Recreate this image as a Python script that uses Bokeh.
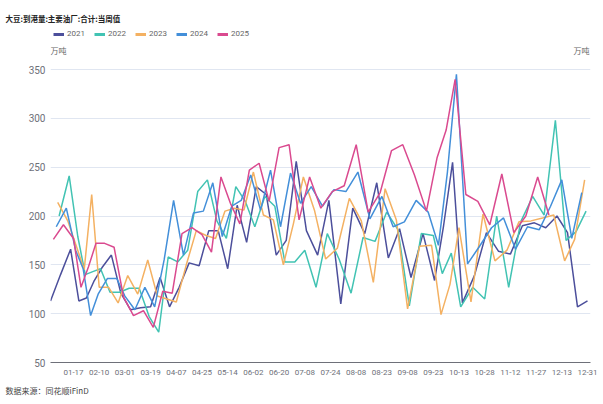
import numpy as np
import pandas as pd
from bokeh.plotting import figure
from bokeh.models import FixedTicker, Label, Legend, LegendItem, Range1d, Title
from bokeh.embed import file_html
from bokeh.resources import INLINE

# ---------------- data ----------------
title_text = "大豆:到港量:主要油厂:合计:当周值"
unit_text = "万吨"
source_text = "数据来源：同花顺iFinD"

tick_labels = ["01-17", "02-10", "03-01", "03-19", "04-07", "04-25", "05-14",
               "06-02", "06-20", "07-08", "07-24", "08-08", "08-23", "09-08",
               "09-23", "10-13", "10-28", "11-12", "11-27", "12-13", "12-31"]
y_ticks = [50, 100, 150, 200, 250, 300, 350]

years = ["2021", "2022", "2023", "2024", "2025"]

v2021 = [113, 140, 166, 113, 116, 133, 147, 160, 121, 104, 106, 107, 137, 107,
         127, 152, 149, 185, 185, 146, 211, 173, 230, 222, 160, 175, 256, 185,
         160, 216, 110, 208, 182, 234, 157, 187, 137, 182, 134, 190, 255, 111,
         139, 183, 164, 161, 190, 193, 188, 200, 183, 107, 113]
v2022 = [200, 241, 179, 140, 143, 146, 122, 122, 126, 126, 97, 81, 158, 153,
         165, 225, 237, 195, 177, 230, 215, 189, 220, 210, 153, 153, 165, 127,
         182, 156, 121, 178, 174, 204, 186, 108, 182, 180, 141, 162, 107, 127,
         115, 200, 127, 194, 220, 201, 298, 175, 184, 205]
v2023 = [214, 195, 168, 145, 222, 127, 127, 111, 139, 120, 155, 118, 115, 112,
         150, 185, 180, 177, 205, 208, 206, 245, 201, 196, 150, 192, 240, 206,
         156, 167, 218, 195, 132, 228, 196, 105, 169, 170, 99, 130, 188, 112,
         202, 154, 165, 194, 195, 198, 201, 154, 176, 237]
v2024 = [189, 208, 165, 146, 98, 120, 136, 136, 118, 104, 127, 107, 155, 216,
         160, 203, 205, 234, 179, 210, 216, 242, 206, 247, 189, 244, 213, 230,
         210, 227, 225, 245, 197, 220, 189, 194, 216, 204, 170, 245, 345, 151,
         169, 188, 198, 166, 189, 186, 210, 237, 177, 224]
v2025 = [176, 191, 177, 127, 148, 172, 172, 168, 117, 98, 103, 86, 123, 121,
         182, 188, 181, 163, 240, 213, 192, 247, 254, 215, 270, 273, 196, 240,
         208, 225, 231, 273, 204, 224, 267, 273, 242, 205, 260, 288, 340, 222,
         215, 191, 243, 183, 200, 240, 201]

series_values = [v2021, v2022, v2023, v2024, v2025]
colors = ["#4c4f9b", "#42c3b3", "#f4b162", "#438fd9", "#da4a8f"]

# ---------------- category-axis position of each weekly date ----------------
FIRST_POS = 0.105           # position of 01-01 (first category, unlabeled)
anchor_md = ["01-01"] + tick_labels
anchor_doy = [pd.Timestamp("2021-" + md).dayofyear for md in anchor_md]
anchor_pos = [FIRST_POS] + list(range(1, len(tick_labels) + 1))


def positions(year, n):
    dates = pd.date_range(f"{year}-01-01", periods=n, freq="W-FRI")
    doy = [pd.Timestamp("2021-" + d.strftime("%m-%d")).dayofyear for d in dates]
    return np.interp(doy, anchor_doy, anchor_pos)


# ---------------- figure ----------------
W, H = 600, 402
FL, FR, FT, FB = 50, 10, 26, 40          # borders
FH = H - FT - FB
FW = W - FL - FR
SPAN_PX = 293                            # pixels between value 50 and 350
Y_TOP = 50 + 300 * FH / SPAN_PX          # legend / unit strip above 350

CJK = "Noto Sans CJK SC"

p = figure(width=W, height=H, output_backend="svg", toolbar_location=None,
           x_range=Range1d(FIRST_POS, len(tick_labels) + 0.117),
           y_range=Range1d(50, Y_TOP),
           min_border_left=FL, min_border_right=FR,
           min_border_top=FT, min_border_bottom=FB)
p.outline_line_color = None
p.background_fill_color = "white"
p.border_fill_color = "white"

p.xgrid.grid_line_color = None
p.ygrid.grid_line_color = "#E0E6F1"
p.ygrid.ticker = FixedTicker(ticks=y_ticks)

p.yaxis.ticker = FixedTicker(ticks=y_ticks)
p.yaxis.axis_line_color = None
p.yaxis.major_tick_line_color = None
p.yaxis.minor_tick_line_color = None
p.yaxis.major_tick_out = 0
p.yaxis.major_label_text_font = "Roboto"
p.yaxis.major_label_text_font_size = "10px"
p.yaxis.major_label_text_color = "#6E7079"
p.yaxis.major_label_standoff = 5

xt = list(range(1, len(tick_labels) + 1))
p.xaxis.ticker = FixedTicker(ticks=xt)
p.xaxis.major_label_overrides = {t: lbl for t, lbl in zip(xt, tick_labels)}
p.xaxis.axis_line_color = "#6E7079"
p.xaxis.major_tick_line_color = None
p.xaxis.minor_tick_line_color = None
p.xaxis.major_tick_out = 0
p.xaxis.major_label_text_font = "Roboto"
p.xaxis.major_label_text_font_size = "8px"
p.xaxis.major_label_text_color = "#6E7079"
p.xaxis.major_label_standoff = 7

items = []
for yr, vals, col in zip(years, series_values, colors):
    xs = positions(int(yr), len(vals))
    p.line(xs, vals, color=col, line_width=1.5)
    # single-point copy: draws nothing in the plot, gives a thick legend symbol
    key = p.line(xs[:1], vals[:1], color=col, line_width=3)
    items.append(LegendItem(label=yr, renderers=[key]))

legend = Legend(items=items, orientation="horizontal", location="top_left",
                glyph_width=11, glyph_height=8, label_standoff=3, spacing=7,
                padding=0, margin=3, border_line_color=None,
                background_fill_alpha=0, label_text_font="Roboto",
                label_text_font_size="8px", label_text_color="#666666",
                label_height=8)
p.add_layout(legend)

# title
p.title.text = title_text
p.title.align = "left"
p.title.offset = -45
p.title.text_font = CJK
p.title.text_font_size = "7.5px"
p.title.text_font_style = "bold"
p.title.text_color = "#222222"
p.title.standoff = 6

# source note below the axis
p.add_layout(Title(text=source_text, align="left", offset=-45, text_font=CJK,
                   text_font_size="8px", text_font_style="normal",
                   text_color="#444444", standoff=11), "below")

# unit labels at the top of both value axes
UNIT_Y = FH - 24
p.add_layout(Label(x=0, y=UNIT_Y, x_units="screen", y_units="screen",
                   text=unit_text, text_font=CJK, text_font_size="8px",
                   text_color="#666666", text_baseline="middle", text_align="left"))
p.add_layout(Label(x=FW - 1, y=UNIT_Y, x_units="screen", y_units="screen",
                   text=unit_text, text_font=CJK, text_font_size="8px",
                   text_color="#666666", text_baseline="middle", text_align="right"))

open("out.html", "w").write(file_html(p, INLINE))
